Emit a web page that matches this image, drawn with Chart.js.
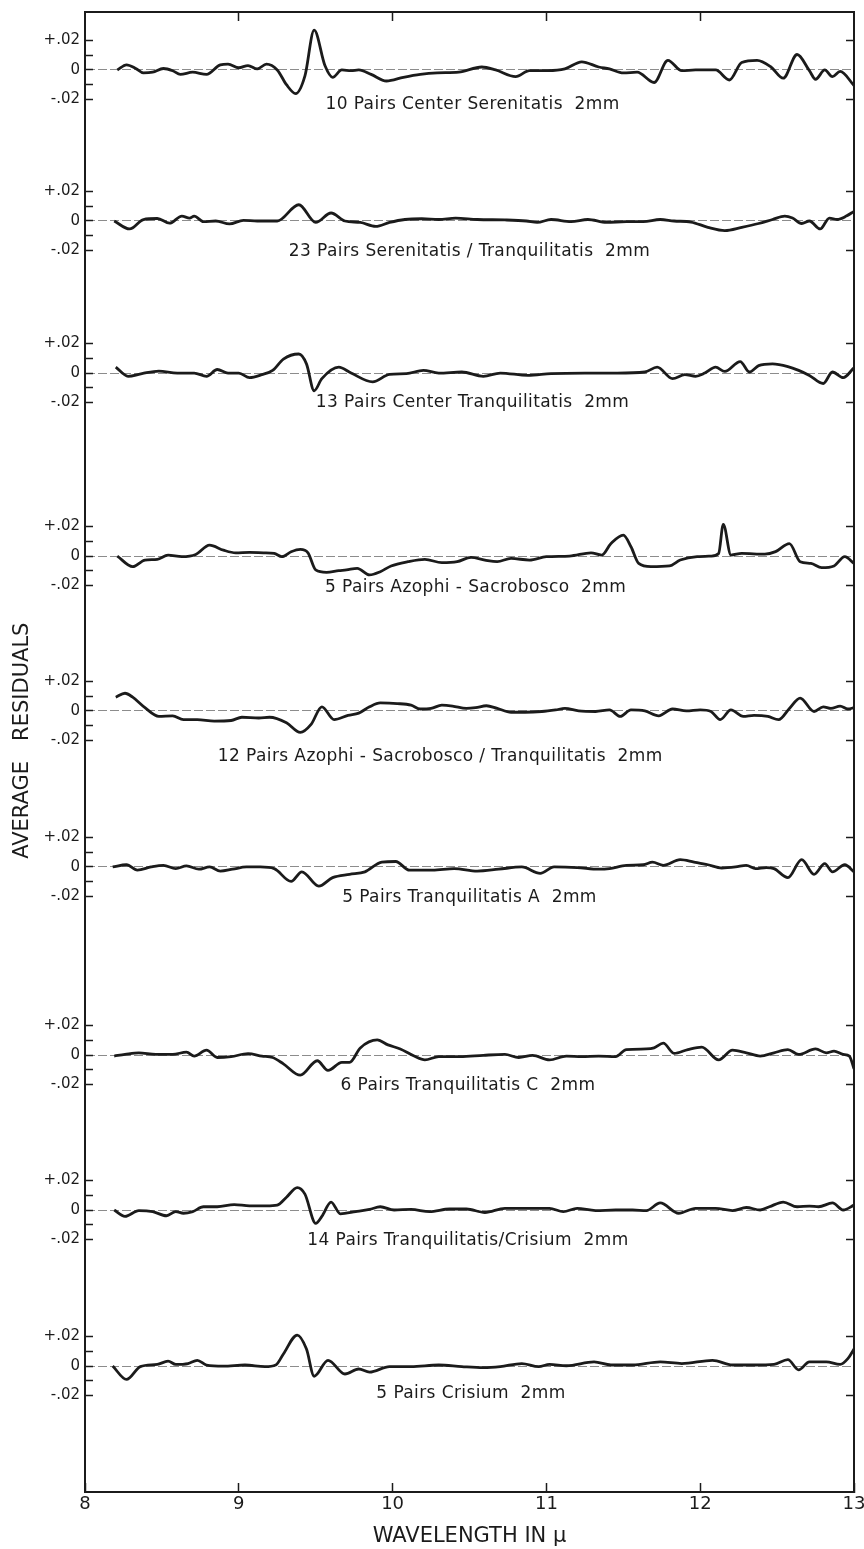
<!DOCTYPE html>
<html>
<head>
<meta charset="utf-8">
<title>Average residuals, 8–13 μ</title>
<script src="https://cdn.jsdelivr.net/npm/chart.js@4.4.1/dist/chart.umd.min.js"></script>
<style>
  html, body { margin: 0; padding: 0; background: #ffffff; }
  canvas { display: block; }
</style>
</head>
<body>
<canvas id="residuals" width="864" height="1549"></canvas>
<script>
// ---- data: wavelength (micron) and average residual for each set of pairs ----
const wlCenterSerenitatis = [8.21, 8.27, 8.33, 8.38, 8.44, 8.51, 8.57, 8.62, 8.70, 8.79, 8.88, 8.93, 9.00, 9.06, 9.12, 9.18, 9.25, 9.31, 9.37, 9.43, 9.49, 9.56, 9.61, 9.67, 9.73, 9.78, 9.86, 9.96, 10.07, 10.18, 10.29, 10.43, 10.58, 10.67, 10.80, 10.89, 11.01, 11.12, 11.23, 11.34, 11.41, 11.50, 11.59, 11.70, 11.79, 11.88, 11.97, 12.10, 12.19, 12.27, 12.37, 12.46, 12.54, 12.63, 12.71, 12.75, 12.81, 12.86, 12.91, 13.00];
const resCenterSerenitatis = [0, .0035, .001, -.002, -.0015, .001, -.0005, -.003, -.0015, -.003, .0035, .004, .0015, .003, .0007, .004, 0, -.010, -.016, -.004, .027, .003, -.005, 0, -.0005, 0, -.003, -.0075, -.005, -.003, -.002, -.0015, .002, 0, -.0045, -.0005, -.0005, .0007, .0055, .002, .0007, -.002, -.0015, -.0085, .0065, -.0005, 0, 0, -.0068, .005, .0065, .002, -.0056, .0105, -.0005, -.0063, 0, -.0045, -.001, -.0105];

const wlSerenitatisTranquilitatis = [8.19, 8.29, 8.38, 8.47, 8.55, 8.63, 8.68, 8.71, 8.77, 8.85, 8.94, 9.03, 9.12, 9.25, 9.39, 9.50, 9.60, 9.69, 9.79, 9.89, 9.98, 10.08, 10.19, 10.30, 10.41, 10.55, 10.73, 10.87, 10.94, 11.03, 11.16, 11.27, 11.39, 11.52, 11.63, 11.74, 11.83, 11.94, 12.05, 12.16, 12.27, 12.38, 12.47, 12.55, 12.60, 12.66, 12.71, 12.78, 12.84, 12.89, 12.95, 13.00];
const resSerenitatisTranquilitatis = [0, -.0054, .001, .0017, -.0015, .0033, .002, .0033, -.0004, 0, -.002, .0004, 0, 0, .011, -.001, .0054, 0, -.001, -.0037, -.001, .001, .0015, .001, .002, .001, .0007, 0, -.001, .001, -.0004, .001, -.001, -.0004, -.0004, .001, 0, -.0007, -.0043, -.0065, -.0043, -.0017, .001, .0033, .002, -.0017, 0, -.0054, .002, .001, .0033, .0065];

const wlCenterTranquilitatis = [8.20, 8.28, 8.37, 8.48, 8.60, 8.71, 8.79, 8.86, 8.93, 9.00, 9.07, 9.15, 9.22, 9.29, 9.39, 9.44, 9.49, 9.54, 9.65, 9.73, 9.87, 9.98, 10.09, 10.20, 10.30, 10.45, 10.59, 10.70, 10.88, 11.03, 11.25, 11.46, 11.64, 11.72, 11.82, 11.90, 11.97, 12.03, 12.10, 12.16, 12.26, 12.32, 12.38, 12.47, 12.57, 12.64, 12.71, 12.80, 12.86, 12.93, 13.00];
const resCenterTranquilitatis = [.004, -.0022, -.0004, .0013, 0, 0, -.0022, .0024, 0, 0, -.0031, -.0011, .0018, .0095, .0129, .0062, -.012, -.0038, .004, 0, -.006, -.0009, -.0004, .0018, 0, .0007, -.0022, 0, -.0016, -.0004, 0, 0, .0007, .004, -.0038, -.0011, -.0022, 0, .004, .0011, .0078, .0007, .005, .0062, .0044, .0018, -.0016, -.0071, .0007, -.0031, .0036];

const wlAzophiSacrobosco = [8.21, 8.31, 8.39, 8.47, 8.54, 8.63, 8.72, 8.81, 8.90, 8.98, 9.07, 9.16, 9.23, 9.28, 9.34, 9.40, 9.45, 9.50, 9.57, 9.65, 9.70, 9.77, 9.85, 9.92, 9.99, 10.10, 10.21, 10.32, 10.42, 10.51, 10.60, 10.68, 10.77, 10.89, 11.00, 11.15, 11.29, 11.36, 11.42, 11.50, 11.55, 11.60, 11.68, 11.80, 11.87, 11.98, 12.07, 12.12, 12.15, 12.20, 12.27, 12.42, 12.49, 12.58, 12.65, 12.72, 12.79, 12.87, 12.94, 13.00];
const resAzophiSacrobosco = [0, -.0072, -.0027, -.0022, .0007, -.0004, .0011, .0074, .004, .0022, .0025, .0022, .0018, -.0004, .0029, .0045, .0022, -.0094, -.011, -.0099, -.0094, -.0083, -.0128, -.0106, -.0067, -.0038, -.0022, -.0045, -.0038, -.0009, -.0027, -.0038, -.0016, -.0027, -.0004, 0, .0022, .0007, .0085, .0142, .0063, -.005, -.0072, -.0067, -.0027, -.0004, 0, .0018, .0215, .0007, .0018, .0013, .003, .0085, -.0038, -.005, -.0079, -.0067, -.0004, -.005];

const wlAzophiSacroboscoTranquilitatis = [8.20, 8.26, 8.31, 8.39, 8.48, 8.57, 8.64, 8.73, 8.84, 8.95, 9.02, 9.13, 9.20, 9.31, 9.40, 9.47, 9.54, 9.62, 9.71, 9.78, 9.85, 9.92, 10.03, 10.12, 10.18, 10.25, 10.32, 10.39, 10.48, 10.54, 10.61, 10.68, 10.77, 10.86, 10.97, 11.06, 11.12, 11.21, 11.32, 11.41, 11.48, 11.55, 11.64, 11.73, 11.82, 11.91, 12.00, 12.07, 12.13, 12.20, 12.28, 12.35, 12.44, 12.51, 12.58, 12.65, 12.74, 12.80, 12.85, 12.91, 12.96, 13.00];
const resAzophiSacroboscoTranquilitatis = [.0093, .012, .0093, .0022, -.0037, -.0033, -.0059, -.0059, -.0069, -.0065, -.0043, -.0048, -.0043, -.008, -.0145, -.0091, .0028, -.0059, -.003, -.0015, .0028, .0054, .005, .0039, .0013, .0017, .0039, .0033, .0017, .0022, .0035, .0017, -.0009, -.0009, -.0004, .0007, .0017, 0, -.0004, .0007, -.0037, .0007, 0, -.0033, .0013, 0, .0007, -.0004, -.0059, .0007, -.0037, -.003, -.0037, -.0059, .0017, .0087, -.0004, .0028, .0017, .0033, .0013, .0022];

const wlTranquilitatisA = [8.18, 8.27, 8.34, 8.43, 8.51, 8.59, 8.66, 8.74, 8.81, 8.88, 8.96, 9.05, 9.14, 9.23, 9.34, 9.41, 9.52, 9.61, 9.72, 9.82, 9.93, 10.02, 10.11, 10.26, 10.40, 10.55, 10.69, 10.84, 10.96, 11.05, 11.20, 11.34, 11.41, 11.52, 11.63, 11.69, 11.76, 11.87, 11.96, 12.05, 12.14, 12.23, 12.30, 12.36, 12.43, 12.48, 12.57, 12.66, 12.74, 12.81, 12.86, 12.94, 13.00];
const resTranquilitatisA = [0, .0015, -.0022, 0, .0011, -.0011, .0007, -.0015, 0, -.0028, -.0015, 0, 0, -.0011, -.0098, -.0033, -.013, -.0072, -.005, -.0033, .0033, .0037, -.0022, -.0022, -.0011, -.0028, -.0015, 0, -.0043, 0, -.0004, -.0015, -.0011, .0011, .0015, .0033, .0011, .005, .0033, .0015, -.0007, 0, .0011, -.0011, -.0004, -.0011, -.0072, .005, -.005, .0022, -.0033, .0015, -.0033];

const wlTranquilitatisC = [8.19, 8.26, 8.35, 8.46, 8.57, 8.66, 8.71, 8.79, 8.86, 8.95, 9.06, 9.15, 9.22, 9.29, 9.40, 9.51, 9.58, 9.67, 9.72, 9.79, 9.90, 9.97, 10.05, 10.14, 10.21, 10.30, 10.44, 10.59, 10.73, 10.82, 10.91, 11.02, 11.13, 11.23, 11.34, 11.45, 11.52, 11.65, 11.70, 11.76, 11.83, 11.92, 12.01, 12.12, 12.21, 12.30, 12.39, 12.48, 12.57, 12.64, 12.75, 12.82, 12.87, 12.93, 12.97, 13.00];
const resTranquilitatisC = [-.0007, .0004, .0015, .0004, .0004, .002, -.0007, .0033, -.0017, -.0011, .0009, -.0007, -.0017, -.006, -.0137, -.0039, -.0104, -.005, -.005, .0048, .0102, .0069, .0041, -.0007, -.0033, -.0011, -.0011, -.0002, .0004, -.0017, -.0002, -.0033, -.0007, -.0011, -.0007, -.0011, .0037, .0041, .0048, .008, .0011, .0037, .0054, -.0033, .0033, .0015, -.0007, .0015, .0037, .0004, .0041, .0015, .0026, .0004, -.0007, -.0093];

const wlTranquilitatisCrisium = [8.19, 8.26, 8.35, 8.44, 8.53, 8.59, 8.64, 8.70, 8.77, 8.86, 8.97, 9.07, 9.18, 9.25, 9.31, 9.38, 9.43, 9.50, 9.54, 9.60, 9.66, 9.76, 9.85, 9.92, 10.01, 10.12, 10.24, 10.37, 10.48, 10.60, 10.73, 10.87, 11.02, 11.11, 11.20, 11.32, 11.45, 11.56, 11.65, 11.74, 11.86, 11.97, 12.10, 12.21, 12.30, 12.39, 12.45, 12.54, 12.63, 12.71, 12.77, 12.86, 12.93, 13.00];
const resTranquilitatisCrisium = [0, -.0043, -.0004, -.0011, -.0039, -.0011, -.0022, -.0011, .0022, .0022, .0037, .0028, .0028, .0033, .0087, .0152, .0108, -.009, -.0043, .0054, -.0026, -.0011, .0004, .0022, 0, .0004, -.0011, .0007, .0007, -.0017, .0011, .0011, .0011, -.0011, .0011, -.0004, 0, 0, -.0004, .0048, -.0022, .0011, .0011, -.0004, .0017, 0, .0022, .0054, .0022, .0026, .0022, .0048, 0, .0033];

const wlCrisium = [8.18, 8.27, 8.36, 8.47, 8.54, 8.59, 8.67, 8.73, 8.79, 8.90, 9.04, 9.17, 9.24, 9.29, 9.38, 9.44, 9.49, 9.58, 9.69, 9.78, 9.85, 9.98, 10.12, 10.30, 10.45, 10.59, 10.70, 10.84, 10.95, 11.02, 11.13, 11.31, 11.42, 11.56, 11.74, 11.88, 12.08, 12.21, 12.35, 12.48, 12.57, 12.64, 12.71, 12.82, 12.91, 12.96, 13.00];
const resCrisium = [0, -.0091, -.0004, .0011, .0033, .0011, .0017, .0039, .0007, 0, .0007, -.0004, .0007, .0082, .021, .0115, -.0069, .0039, -.0054, -.002, -.0041, -.0004, -.0004, .0007, -.0004, -.0011, -.0004, .0017, -.0004, .0011, .0002, .0028, .0007, .0007, .0028, .0017, .0039, .0007, .0007, .0011, .0043, -.0026, .0028, .0028, .0011, .005, .0115];

const panelTitles = [
  '10 Pairs Center Serenitatis  2mm',
  '23 Pairs Serenitatis / Tranquilitatis  2mm',
  '13 Pairs Center Tranquilitatis  2mm',
  '5 Pairs Azophi - Sacrobosco  2mm',
  '12 Pairs Azophi - Sacrobosco / Tranquilitatis  2mm',
  '5 Pairs Tranquilitatis A  2mm',
  '6 Pairs Tranquilitatis C  2mm',
  '14 Pairs Tranquilitatis/Crisium  2mm',
  '5 Pairs Crisium  2mm'
];
const panelSeries = [
  [wlCenterSerenitatis, resCenterSerenitatis],
  [wlSerenitatisTranquilitatis, resSerenitatisTranquilitatis],
  [wlCenterTranquilitatis, resCenterTranquilitatis],
  [wlAzophiSacrobosco, resAzophiSacrobosco],
  [wlAzophiSacroboscoTranquilitatis, resAzophiSacroboscoTranquilitatis],
  [wlTranquilitatisA, resTranquilitatisA],
  [wlTranquilitatisC, resTranquilitatisC],
  [wlTranquilitatisCrisium, resTranquilitatisCrisium],
  [wlCrisium, resCrisium]
];
const yTickValues = [-0.02, -0.01, 0, 0.01, 0.02];
const yLabeledTicks = { '0.02': '+.02', '0': '0', '-0.02': '-.02' };
const xTickValues = [8, 9, 10, 11, 12, 13];
const xTopTickValues = [9, 10, 11, 12];

// ---- layout: residual range shown by each stacked panel, and where its caption sits ----
const panelMax = [0.0393, 0.039, 0.039, 0.039, 0.0264, 0.039, 0.039, 0.039, 0.039];
const panelMin = [-0.0634, -0.0641, -0.0851, -0.0786, -0.0668, -0.0885, -0.0661, -0.0668, -0.0854];
const captionWavelength = [10.52, 10.5, 10.52, 10.54, 10.31, 10.5, 10.49, 10.49, 10.51];
const captionLevel = [-0.0235, -0.0205, -0.02, -0.0215, -0.031, -0.0205, -0.0205, -0.0205, -0.019];

const INK = '#1b1b1b';
const FONT = '"DejaVu Sans", "Liberation Sans", sans-serif';

// every axis box gets a fixed thickness and no label overhang, so the frame sits where intended
const fixedBox = (w, h) => s => {
  if (w !== null) s.width = w;
  if (h !== null) s.height = h;
  s.paddingTop = 0; s.paddingBottom = 0; s.paddingLeft = 0; s.paddingRight = 0;
};

const datasets = panelSeries.map(([wl, res], i) => ({
  label: panelTitles[i],
  data: wl.map((w, j) => ({ x: w, y: res[j] })),
  xAxisID: 'x',
  yAxisID: 'y' + i,
  borderColor: INK,
  borderWidth: 2.8,
  pointRadius: 0,
  fill: false,
  cubicInterpolationMode: 'monotone'
}));

const scales = {
  x: {
    type: 'linear', position: 'bottom', min: 8, max: 13,
    afterBuildTicks: s => { s.ticks = xTickValues.map(v => ({ value: v })); },
    afterFit: fixedBox(null, 57),
    ticks: { color: INK, font: { family: FONT, size: 18 }, padding: 11, autoSkip: false, maxRotation: 0 },
    grid: { drawOnChartArea: false, tickLength: -9, tickColor: INK, tickWidth: 1.5 },
    border: { display: true, color: INK, width: 2 },
    title: { display: true, text: 'WAVELENGTH IN μ', color: INK, font: { family: FONT, size: 21 }, padding: { top: 0, bottom: 0 } }
  },
  xTop: {
    type: 'linear', position: 'top', min: 8, max: 13,
    afterBuildTicks: s => { s.ticks = xTopTickValues.map(v => ({ value: v })); },
    afterFit: fixedBox(null, 12),
    ticks: { display: false },
    grid: { drawOnChartArea: false, tickLength: -9, tickColor: INK, tickWidth: 1.5 },
    border: { display: true, color: INK, width: 2 }
  }
};

panelTitles.forEach((_, i) => {
  scales['y' + i] = {
    type: 'linear', position: 'left', stack: 'panels', stackWeight: panelMax[i] - panelMin[i],
    weight: panelTitles.length - i,
    min: panelMin[i], max: panelMax[i],
    afterBuildTicks: s => { s.ticks = yTickValues.map(v => ({ value: v })); },
    afterFit: fixedBox(85, null),
    ticks: {
      color: INK, font: { family: FONT, size: 15 }, padding: 13, autoSkip: false,
      callback: v => yLabeledTicks[String(v)] || ''
    },
    grid: {
      drawOnChartArea: true,
      color: c => (c.tick && c.tick.value === 0 ? '#8c8c8c' : 'rgba(0,0,0,0)'),
      lineWidth: 1,
      tickLength: -8, tickColor: INK, tickWidth: 1.5
    },
    border: { display: true, color: INK, width: 2, dash: [9, 3] },
    title: i === 4
      ? { display: true, text: 'AVERAGE   RESIDUALS', color: INK, font: { family: FONT, size: 21 }, padding: { top: 10, bottom: 0 } }
      : { display: false }
  };
  scales['r' + i] = {
    type: 'linear', position: 'right', stack: 'panels', stackWeight: panelMax[i] - panelMin[i],
    weight: i,
    min: panelMin[i], max: panelMax[i],
    afterBuildTicks: s => { s.ticks = [-0.02, 0.02].map(v => ({ value: v })); },
    afterFit: fixedBox(10, null),
    ticks: { display: false },
    grid: { drawOnChartArea: false, tickLength: -8, tickColor: INK, tickWidth: 1.5 },
    border: { display: true, color: INK, width: 2 }
  };
});

// captions written beneath each curve, placed through the panel's own scales
const panelCaptions = {
  id: 'panelCaptions',
  afterDatasetsDraw(chart) {
    const { ctx } = chart;
    const xs = chart.scales.x;
    ctx.save();
    ctx.font = '17px ' + FONT;
    if ('letterSpacing' in ctx) ctx.letterSpacing = '0.4px';
    ctx.fillStyle = INK;
    ctx.textAlign = 'center';
    ctx.textBaseline = 'middle';
    panelTitles.forEach((t, i) => {
      const ys = chart.scales['y' + i];
      ctx.fillText(t, xs.getPixelForValue(captionWavelength[i]), ys.getPixelForValue(captionLevel[i]));
    });
    ctx.restore();
  }
};

const paper = {
  id: 'paper',
  beforeDraw(chart) {
    const { ctx, width, height } = chart;
    ctx.save();
    ctx.fillStyle = '#ffffff';
    ctx.fillRect(0, 0, width, height);
    ctx.restore();
  }
};

new Chart(document.getElementById('residuals'), {
  type: 'line',
  data: { datasets },
  options: {
    responsive: false,
    animation: false,
    devicePixelRatio: 1,
    parsing: false,
    layout: { padding: 0 },
    plugins: { legend: { display: false }, tooltip: { enabled: false }, title: { display: false } },
    scales
  },
  plugins: [paper, panelCaptions]
});
</script>
</body>
</html>
